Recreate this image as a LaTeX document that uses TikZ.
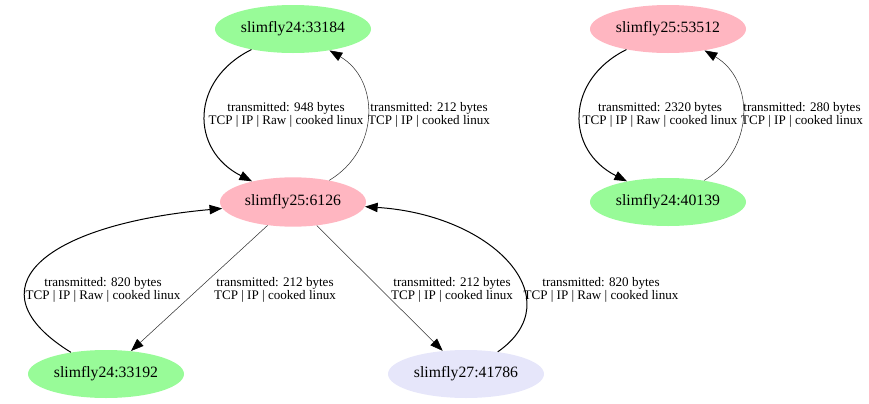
\documentclass[tikz,border=0pt]{standalone}
\usepackage{fontspec}
\setmainfont{Liberation Serif}
\usetikzlibrary{arrows.meta,shapes.geometric}
\definecolor{pgreen}{HTML}{98FB98}
\definecolor{lpink}{HTML}{FFB6C1}
\definecolor{lav}{HTML}{E6E6FA}
\begin{document}
\begin{tikzpicture}[x=0.75pt,y=-0.75pt,
  host/.style={ellipse,inner sep=0pt,minimum width=117pt,minimum height=36pt,font=\fontsize{11.8}{13}\selectfont},
  hostsm/.style={host,minimum width=109.5pt,minimum height=37pt},
  lbl/.style={align=center,inner sep=0pt,font=\fontsize{9.8}{10.2}\selectfont},
  heavy/.style={line width=0.75pt,-{Triangle[length=9.5pt,width=7pt]}},
  light/.style={line width=0.4pt,draw=black!80,-{Triangle[length=9.5pt,width=7pt,color=black]}}]
\useasboundingbox (0,0) rectangle (869,404);
\node[host,fill=pgreen] (a) at (293,29) {slimfly24:33184};
\node[hostsm,fill=lpink] (b) at (293,202) {slimfly25:6126};
\node[host,fill=lpink] (c) at (668,29) {slimfly25:53512};
\node[host,fill=pgreen] (d) at (668,202) {slimfly24:40139};
\node[host,fill=pgreen] (e) at (106,374) {slimfly24:33192};
\node[host,fill=lav] (f) at (466,374) {slimfly27:41786};
\draw[heavy] (a) .. controls (190,80) and (190,150) .. (b);
\draw[light] (b) .. controls (380,150) and (380,80) .. (a);
\draw[heavy] (c) .. controls (565,80) and (565,150) .. (d);
\draw[light] (d) .. controls (755,150) and (755,80) .. (c);
\draw[heavy] (e) .. controls (-30,290) and (40,225) .. (b);
\draw[light] (b) -- (e);
\draw[light] (b) -- (f);
\draw[heavy] (f) .. controls (572,300) and (495,215) .. (b);
\node[lbl] (l1) at (286,115) {transmitted: 948 bytes\\TCP | IP | Raw | cooked linux};
\node[lbl] (l2) at (429,115) {transmitted: 212 bytes\\TCP | IP | cooked linux};
\node[lbl] (l3) at (660,115) {transmitted: 2320 bytes\\TCP | IP | Raw | cooked linux};
\node[lbl] (l4) at (802,115) {transmitted: 280 bytes\\TCP | IP | cooked linux};
\node[lbl] (l5) at (103,290) {transmitted: 820 bytes\\TCP | IP | Raw | cooked linux};
\node[lbl] (l6) at (275,290) {transmitted: 212 bytes\\TCP | IP | cooked linux};
\node[lbl] (l7) at (452,290) {transmitted: 212 bytes\\TCP | IP | cooked linux};
\node[lbl] (l8) at (601,290) {transmitted: 820 bytes\\TCP | IP | Raw | cooked linux};
\end{tikzpicture}
\end{document}
